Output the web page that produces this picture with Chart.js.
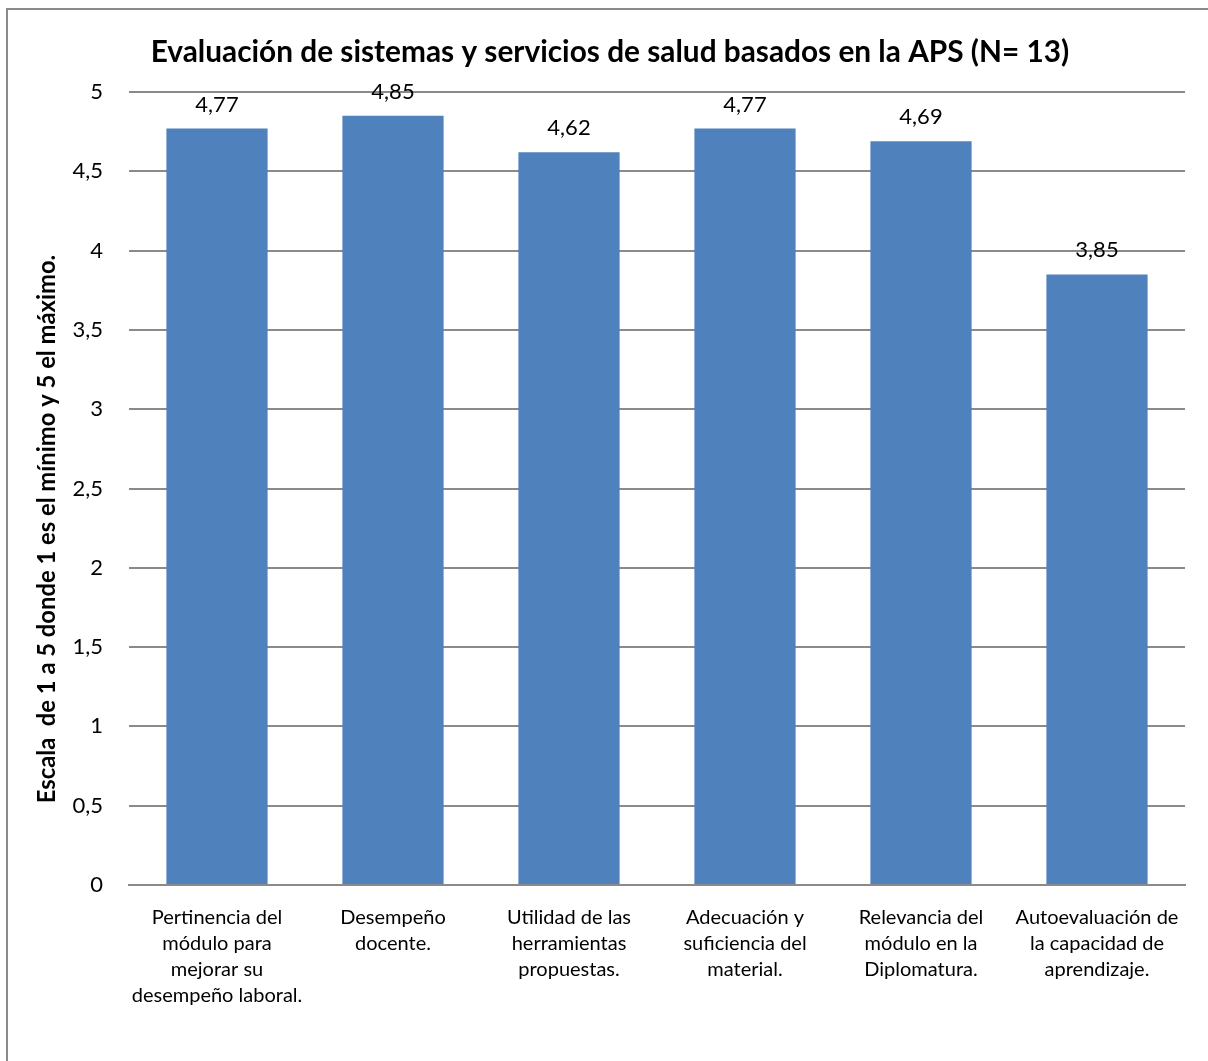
<!DOCTYPE html>
<html>
<head>
<meta charset="utf-8">
<script src="https://cdn.jsdelivr.net/npm/chart.js@4/dist/chart.umd.min.js"></script>
<style>
  html, body { margin: 0; padding: 0; overflow: hidden; background: #fff; }
  #frame { position: absolute; left: 6px; top: 8px; width: 1230px; height: 1080px; border: 2px solid #8a8a8a; }
  #wrap { position: absolute; left: 0; top: 0; width: 1208px; height: 1061px; }
</style>
</head>
<body>
<div id="frame"></div>
<div id="wrap"><canvas id="chart" width="1208" height="1061"></canvas></div>
<script>
const categories = [
  ['Pertinencia del', 'módulo para', 'mejorar su', 'desempeño laboral.'],
  ['Desempeño', 'docente.'],
  ['Utilidad de las', 'herramientas', 'propuestas.'],
  ['Adecuación y', 'suficiencia del', 'material.'],
  ['Relevancia del', 'módulo en la', 'Diplomatura.'],
  ['Autoevaluación de', 'la capacidad de', 'aprendizaje.']
];
const scores = [4.77, 4.85, 4.62, 4.77, 4.69, 3.85];
const chartTitle = 'Evaluación de sistemas y servicios de salud basados en la APS (N= 13)';
const yTitle = 'Escala  de 1 a 5 donde 1 es el mínimo y 5 el máximo.';

const FONT = "Lato, 'Open Sans', sans-serif";

// title, y-axis title and the value labels above each bar
const textLayer = {
  id: 'textLayer',
  afterDatasetsDraw(chart) {
    const ctx = chart.ctx;
    const meta = chart.getDatasetMeta(0);
    ctx.save();
    ctx.fillStyle = '#000';
    ctx.textAlign = 'center';
    ctx.textBaseline = 'middle';

    ctx.font = 'bold 29.8px ' + FONT;
    ctx.fillText(chartTitle, 610, 52);

    ctx.font = '22px ' + FONT;
    meta.data.forEach((bar, i) => {
      ctx.fillText(scores[i].toFixed(2).replace('.', ','), bar.x, bar.y - 24);
    });

    ctx.translate(47, 529);
    ctx.rotate(-Math.PI / 2);
    ctx.font = 'bold 23.8px ' + FONT;
    ctx.fillText(yTitle, 0, 0);
    ctx.restore();
  }
};

new Chart(document.getElementById('chart'), {
  type: 'bar',
  data: {
    labels: categories,
    datasets: [{
      data: scores,
      backgroundColor: '#4F81BD',
      categoryPercentage: 1,
      barPercentage: 0.575
    }]
  },
  options: {
    responsive: false,
    animation: false,
    layout: { padding: { left: 0, right: 23, top: 92, bottom: 0 } },
    plugins: {
      legend: { display: false },
      tooltip: { enabled: false },
      title: { display: false }
    },
    scales: {
      x: {
        grid: { display: false },
        border: { display: true, color: '#8a8a8a', width: 2 },
        ticks: {
          color: '#000',
          font: { family: FONT, size: 20, lineHeight: 1.3 },
          maxRotation: 0,
          autoSkip: false,
          padding: 12
        },
        afterFit(scale) { scale.height = 176; }
      },
      y: {
        min: 0,
        max: 5,
        grid: { color: '#8a8a8a', lineWidth: 2, drawTicks: false },
        border: { display: false },
        ticks: {
          stepSize: 0.5,
          color: '#000',
          font: { family: FONT, size: 22 },
          padding: 26,
          callback: v => String(v).replace('.', ',')
        },
        afterFit(scale) { scale.width = 129; }
      }
    }
  },
  plugins: [textLayer]
});
</script>
</body>
</html>
